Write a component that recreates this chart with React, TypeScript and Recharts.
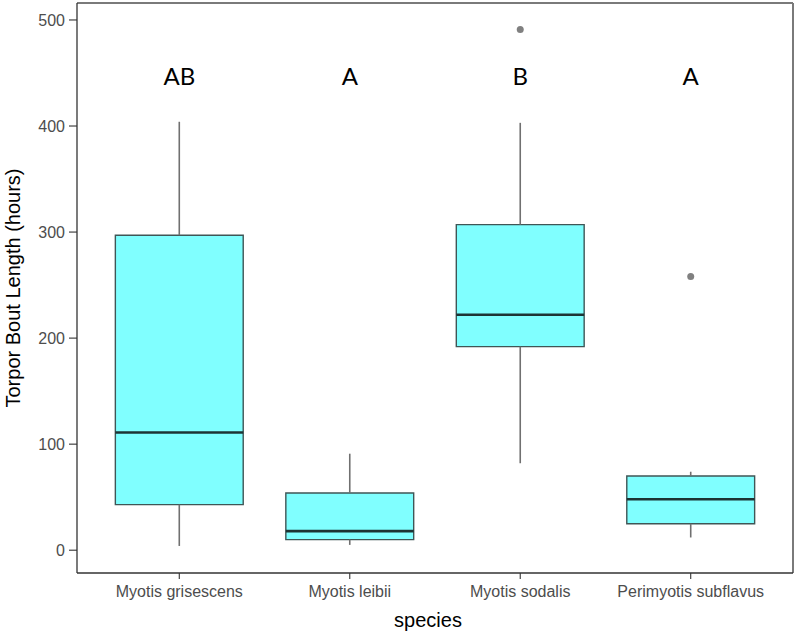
import React from 'react';
import {
  ComposedChart,
  XAxis,
  YAxis,
  Scatter,
  ReferenceArea,
  ReferenceLine,
} from 'recharts';

// ---- data ----
const species = ['Myotis grisescens', 'Myotis leibii', 'Myotis sodalis', 'Perimyotis subflavus'];
const whiskerLow = [4, 5, 82, 12];
const q1 = [43, 10, 192, 25];
const median = [111, 18, 222, 48];
const q3 = [297, 54, 307, 70];
const whiskerHigh = [404, 91, 403, 74];
const outlierGroup = [3, 4];
const outlierValue = [491, 258];
const groupLetters = ['AB', 'A', 'B', 'A'];
const letterLevel = 448;
const yTicks = [0, 100, 200, 300, 400, 500];
const xTicks = [1, 2, 3, 4];

const Y_DOMAIN: [number, number] = [-21.5, 516];
const X_DOMAIN: [number, number] = [0.4, 4.6];
const HALF = 0.375;

const outliers = outlierGroup.map((g, i) => ({ x: g, y: outlierValue[i] }));
const letters = groupLetters.map((l, i) => ({ x: i + 1, y: letterLevel, label: l }));

const TICK_FONT = { fontFamily: '"Liberation Sans", Arial, sans-serif', fontSize: 16, fill: '#4d4d4d' };

export default function App() {
  return (
    <div style={{ position: 'absolute', left: 0, top: 0, background: '#fff' }}>
      <ComposedChart width={797} height={635} margin={{ top: 3, right: 4, bottom: 0, left: 0 }}>
        <XAxis
          dataKey="x"
          type="number"
          domain={X_DOMAIN}
          ticks={xTicks}
          allowDataOverflow
          tickFormatter={(v: number) => species[v - 1] ?? ''}
          height={62}
          tickSize={6}
          tickMargin={7}
          tick={TICK_FONT}
          axisLine={{ stroke: '#333', strokeWidth: 1.3 }}
          tickLine={{ stroke: '#333', strokeWidth: 1.1 }}
          label={{
            content: (props: any) => {
              const vb = props.viewBox || {};
              return (
                <text
                  x={vb.x + vb.width / 2 - 7}
                  y={627}
                  textAnchor="middle"
                  fontFamily='"Liberation Sans", Arial, sans-serif'
                  fontSize={20}
                  fill="#000"
                >
                  species
                </text>
              );
            },
          }}
        />
        <YAxis
          type="number"
          domain={Y_DOMAIN}
          ticks={yTicks}
          allowDataOverflow
          width={77}
          tickSize={8}
          tickMargin={4}
          tick={TICK_FONT}
          axisLine={{ stroke: '#333', strokeWidth: 1.3 }}
          tickLine={{ stroke: '#333', strokeWidth: 1.1 }}
          label={{
            content: (props: any) => {
              const vb = props.viewBox || {};
              const cx = 13;
              const cy = vb.y + vb.height / 2;
              return (
                <text
                  x={cx}
                  y={cy}
                  transform={`rotate(-90 ${cx} ${cy})`}
                  textAnchor="middle"
                  dominantBaseline="central"
                  fontFamily='"Liberation Sans", Arial, sans-serif'
                  fontSize={20}
                  fill="#000"
                >
                  Torpor Bout Length (hours)
                </text>
              );
            },
          }}
        />

        {/* panel border top/right */}
        <ReferenceLine y={Y_DOMAIN[1]} stroke="#7a7a7a" strokeWidth={2} />
        <ReferenceLine x={X_DOMAIN[1]} stroke="#7a7a7a" strokeWidth={2} />

        {/* whiskers */}
        {species.map((_, i) => (
          <ReferenceLine
            key={`wl-${i}`}
            segment={[
              { x: i + 1, y: whiskerLow[i] },
              { x: i + 1, y: q1[i] },
            ]}
            stroke="#707070"
            strokeWidth={1.6}
          />
        ))}
        {species.map((_, i) => (
          <ReferenceLine
            key={`wh-${i}`}
            segment={[
              { x: i + 1, y: q3[i] },
              { x: i + 1, y: whiskerHigh[i] },
            ]}
            stroke="#707070"
            strokeWidth={1.6}
          />
        ))}

        {/* boxes */}
        {species.map((_, i) => (
          <ReferenceArea
            key={`box-${i}`}
            x1={i + 1 - HALF}
            x2={i + 1 + HALF}
            y1={q1[i]}
            y2={q3[i]}
            fill="#80ffff"
            fillOpacity={1}
            stroke="#3f5656"
            strokeWidth={1.4}
          />
        ))}

        {/* medians */}
        {species.map((_, i) => (
          <ReferenceLine
            key={`med-${i}`}
            segment={[
              { x: i + 1 - HALF, y: median[i] },
              { x: i + 1 + HALF, y: median[i] },
            ]}
            stroke="#1d3434"
            strokeWidth={2.6}
          />
        ))}

        <Scatter
          data={outliers}
          dataKey="y"
          isAnimationActive={false}
          shape={(p: any) => <circle cx={p.cx} cy={p.cy} r={3.5} fill="#808080" />}
        />
        <Scatter
          data={letters}
          dataKey="y"
          isAnimationActive={false}
          shape={(p: any) => (
            <text
              x={p.cx}
              y={p.cy}
              textAnchor="middle"
              dominantBaseline="central"
              fontFamily="Lato, 'Open Sans', sans-serif"
              fontSize={24}
              fill="#000"
            >
              {p.payload.label}
            </text>
          )}
        />
      </ComposedChart>
    </div>
  );
}
